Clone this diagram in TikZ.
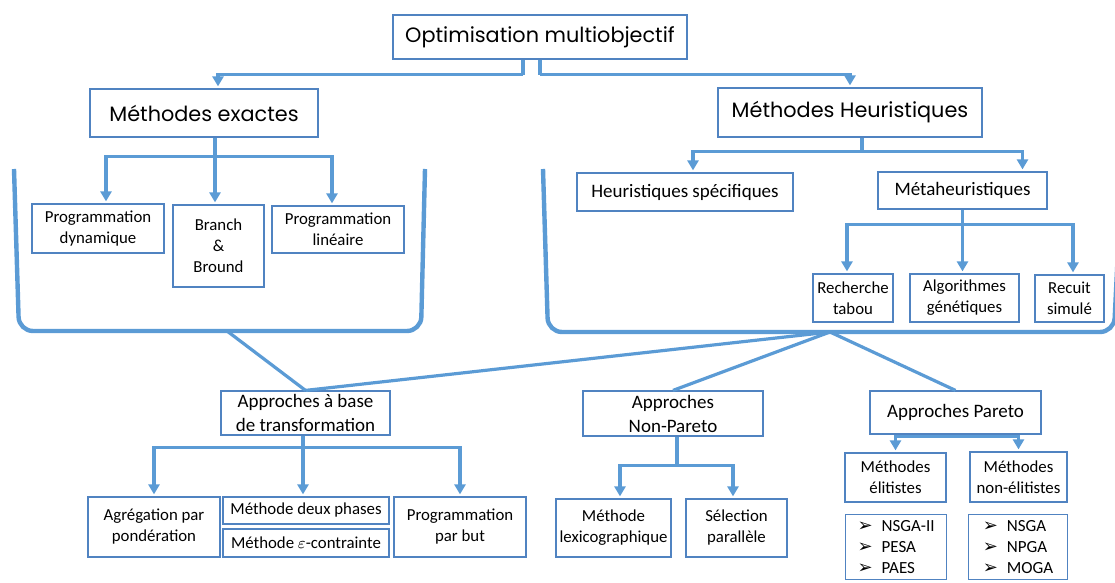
\documentclass[tikz,border=0pt]{standalone}
\usepackage{fontspec}
\setmainfont{Carlito}
\newfontfamily\gothic{Poppins}
\newfontfamily\symf{DejaVu Sans}
\usepackage{tikz}
\usetikzlibrary{arrows.meta, calc}
\definecolor{linec}{HTML}{5B9BD5}
\definecolor{boxc}{HTML}{5083C1}
\newcommand{\bul}{\makebox[12pt][l]{\symf\fontsize{9}{9}\selectfont ➢}}
\tikzset{
  box/.style={draw=boxc, line width=0.6pt, fill=white, align=center, inner sep=1pt,
              font=\fontsize{8.4}{10.5}\selectfont},
  midbox/.style={box, font=\fontsize{9.5}{12}\selectfont},
  topbox/.style={box, font=\gothic\fontsize{10.4}{13}\selectfont},
  listbox/.style={box, align=left, inner xsep=1.5pt, inner ysep=3pt, font=\fontsize{8.5}{10.5}\selectfont},
  con/.style={line width=1.6pt, draw=linec},
  arr/.style={con, -{Triangle[length=5pt, width=5.5pt]}, shorten >=1pt},
  brk/.style={line width=2.2pt, draw=linec, rounded corners=7pt},
}

\begin{document}
\begin{tikzpicture}[x=0.5pt, y=-0.5pt]
        \clip (0,0) rectangle (1115,583);
        % brackets
        \draw[brk] (14,169) -- (19,331) -- (421,331) -- (425,169);
        \draw[brk] (543,169) -- (548,332) -- (1114,332) -- (1122,169);
        \coordinate (jl) at (227,331);
        \coordinate (jr) at (830,332);
        % top levels
        \node[topbox, minimum width=147pt, minimum height=22pt] (opt) at (540,37) {Optimisation multiobjectif};
        \node[topbox, minimum width=114pt, minimum height=24pt] (exa) at (204,113) {Méthodes exactes};
        \node[topbox, minimum width=132pt, minimum height=24.5pt] (heu) at (850,112.5) {Méthodes Heuristiques};
        % exact methods
        \node[box, minimum width=66pt, minimum height=24.5pt] (pd) at (98,228.5) {Programmation\\dynamique};
        \node[box, minimum width=45.5pt, minimum height=41pt] (bb) at (218.5,246) {Branch\\\&\\Bround};
        \node[box, minimum width=66pt, minimum height=23.5pt] (pl) at (338,229.5) {Programmation\\linéaire};
        % heuristics
        \node[midbox, minimum width=108pt, minimum height=19pt] (hs) at (685,192) {Heuristiques spécifiques};
        \node[midbox, minimum width=84.5pt, minimum height=18.5pt] (meta) at (962.5,190.5) {Métaheuristiques};
        \node[box, minimum width=40pt, minimum height=24pt] (rt) at (853,298) {Recherche\\tabou};
        \node[box, minimum width=54.5pt, minimum height=24pt] (ag) at (964.5,298) {Algorithmes\\génétiques};
        \node[box, minimum width=34.5pt, minimum height=23.5pt] (rs) at (1069.5,298.5) {Recuit\\simulé};
        % approaches
        \node[midbox, minimum width=84.5pt, minimum height=22pt] (abt) at (305.5,413) {Approches à base\\de transformation};
        \node[midbox, minimum width=90pt, minimum height=22.5pt] (anp) at (673,413.5) {Approches\\Non-Pareto};
        \node[midbox, minimum width=85.5pt, minimum height=21.5pt] (ap) at (955.5,412.5) {Approches Pareto};
        \node[box, minimum width=66pt, minimum height=30pt] (agr) at (154,527) {Agrégation par\\pondération};
        \node[box, minimum width=83pt, minimum height=13.5pt] (mdp) at (306,510.5) {Méthode deux phases};
        \node[box, minimum width=83pt, minimum height=14pt] (mec) at (306,543) {Méthode $\varepsilon$-contrainte};
        \node[box, minimum width=66pt, minimum height=30pt] (ppb) at (460,527) {Programmation\\par but};
        \node[box, minimum width=57.5pt, minimum height=29pt] (ml) at (613.5,528) {Méthode\\lexicographique};
        \node[box, minimum width=50.5pt, minimum height=29pt] (sp) at (736.5,528) {Sélection\\parallèle};
        \node[box, minimum width=50.5pt, minimum height=24.5pt] (me) at (895.5,477.5) {Méthodes\\élitistes};
        \node[box, minimum width=48.5pt, minimum height=25pt] (mne) at (1018.5,477) {Méthodes\\non-élitistes};
        \node[listbox, minimum width=50.5pt, anchor=north west] (le) at (845,514) {\bul NSGA-II\\\bul PESA\\\bul PAES};
        \node[listbox, minimum width=49.5pt, anchor=north west] (lne) at (968,514) {\bul NSGA\\\bul NPGA\\\bul MOGA};
        % arrows
        \draw[con] ([xshift=-8.5pt]opt.south) -- ++(0,15) coordinate (optl);
        \draw[arr] (optl) -| ([xshift=7pt]exa.north);
        \draw[con] (opt.south) -- ++(0,15) coordinate (optr);
        \draw[arr] (optr) -| (heu.north);
        \draw[con] ([xshift=5.5pt]exa.south) -- ++(0,19) coordinate (exaj);
        \draw[arr] (exaj) -| ([xshift=4pt]pd.north);
        \draw[arr] (exaj) -- (exaj |- bb.north);
        \draw[arr] (exaj) -| ([xshift=-3pt]pl.north);
        \draw[con] ([xshift=6pt]heu.south) -- ++(0,14) coordinate (heuj);
        \draw[arr] (heuj) -| ([xshift=4pt]hs.north);
        \draw[arr] (heuj) -| ([xshift=30pt]meta.north);
        \draw[con] (meta.south) -- ++(0,15) coordinate (metaj);
        \draw[arr] (metaj) -| ([xshift=-3pt]rt.north);
        \draw[arr] (metaj) -- (metaj |- ag.north);
        \draw[arr] (metaj) -| ([xshift=1.75pt]rs.north);
        \draw[con] (jl) -- (abt.north);
        \draw[con] (jr) -- (abt.north);
        \draw[con] (jr) -- (anp.north);
        \draw[con] (jr) -- (ap.north);
        \draw[con] ([xshift=-1.25pt]abt.south) -- ++(0,12) coordinate (abtj);
        \draw[arr] (abtj) -| (agr.north);
        \draw[arr] (abtj) -- (abtj |- mdp.north);
        \draw[arr] (abtj) -| (ppb.north);
        \draw[con] ([xshift=2pt]anp.south) -- ++(0,29) coordinate (anpj);
        \draw[arr] (anpj) -| ([xshift=3.25pt]ml.north);
        \draw[arr] (anpj) -| ([xshift=-1.75pt]sp.north);
        \coordinate (apj) at ([yshift=-1pt]ap.south);
        \draw[arr] (apj) -| (me.north);
        \draw[arr] (apj) -| (mne.north);
      \end{tikzpicture}
\end{document}
